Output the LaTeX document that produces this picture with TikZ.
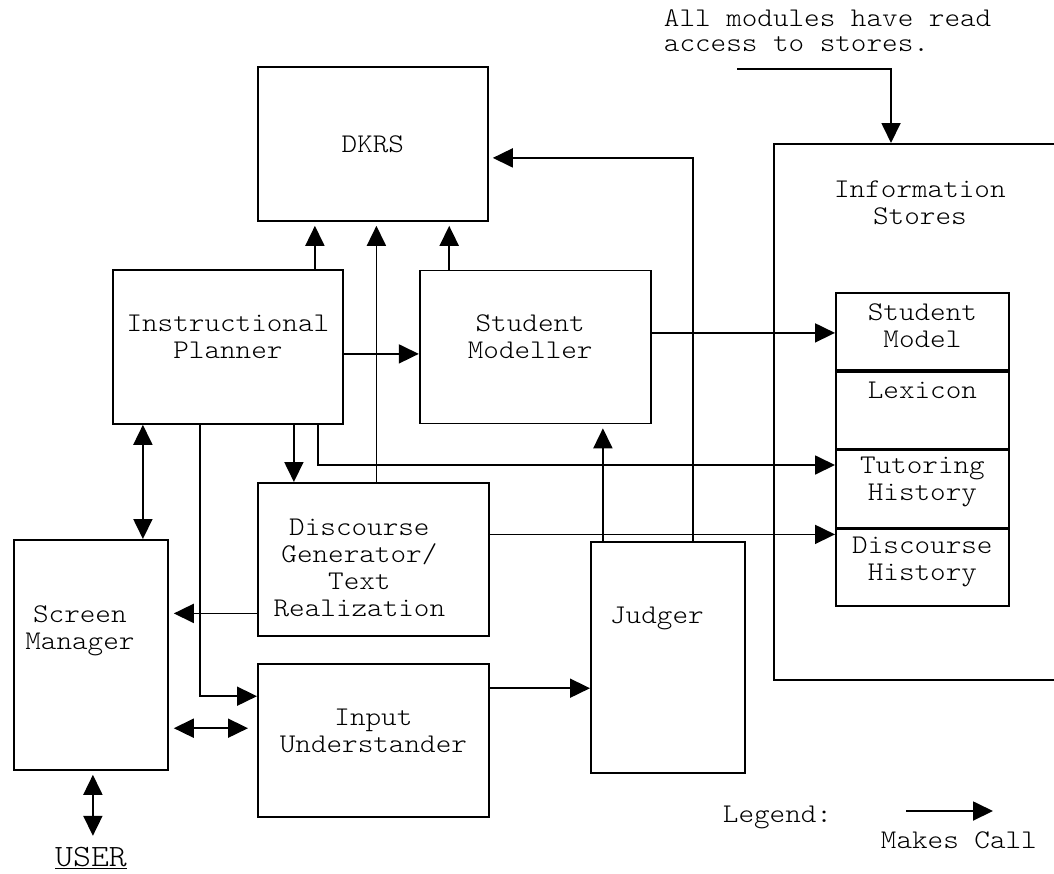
\documentclass[tikz,border=0pt]{standalone}
\usepackage{fontspec}
\setmainfont{Latin Modern Mono Light}[FakeStretch=1.1]
\usepackage{tikz}
\usetikzlibrary{positioning, arrows.meta, calc}

\begin{document}
\begin{tikzpicture}
    [
        x=1pt, y=-1pt,
        font=\fontsize{27}{27}\selectfont,
        line width=1.8pt,
        box/.style 2 args={draw, anchor=north west, minimum width=#1,
                           minimum height=#2},
        cell/.style={draw, minimum width=173pt, minimum height=77pt},
        every label/.style={align=center},
        call/.style={-{Triangle[length=20pt, width=19pt]}},
        both/.style={{Triangle[length=20pt, width=19pt]}-{Triangle[length=20pt, width=19pt]}}
    ]
    \useasboundingbox (0,0) rectangle (1054,873);
    % modules
    \node (dkrs) [box={230pt}{154pt}, label={center:DKRS}] at (257,66) {};
    \node (ip) [box={230pt}{154pt},
        label={[yshift=10pt]center:Instructional\\Planner}] at (112,269) {};
    \node (smod) [box={231pt}{153pt}, right=75pt of ip,
        label={[xshift=-5pt, yshift=10pt]center:Student\\Modeller}] {};
    \node (dg) [box={231pt}{153pt},
        label={[xshift=-14pt, yshift=-8pt]center:Discourse\\Generator/\\Text\\Realization}]
        at (257,482) {};
    \node (iu) [box={231pt}{153pt}, below=26pt of dg,
        label={[yshift=9pt]center:Input\\Understander}] {};
    \node (scr) [box={154pt}{230pt},
        label={[xshift=-11pt, yshift=24pt]center:Screen\\Manager}] at (13,539) {};
    \node (judger) [box={154pt}{231pt},
        label={[xshift=-11pt, yshift=39pt]center:Judger}] at (590,541) {};
    % stores
    \node (stores) [box={292pt}{536pt},
        label={[yshift=209pt]center:Information\\Stores}] at (773,143) {};
    \node (cstudent) [cell, anchor=north west,
        label={[yshift=6pt]center:Student\\Model}] at (835,292) {};
    \node (clexicon) [cell, below=0pt of cstudent,
        label={[yshift=20pt]center:Lexicon}] {};
    \node (ctutor) [cell, below=0pt of clexicon,
        label={[yshift=7pt]center:Tutoring\\History}] {};
    \node (cdisc) [cell, below=0pt of ctutor,
        label={[yshift=6pt]center:Discourse\\History}] {};
    % texts
    \node (note) [anchor=north west, inner sep=0pt, align=left,
        font=\fontsize{27}{25}\selectfont] at (663,9)
        {All modules have read\\access to stores.};
    \node (user) [anchor=base, inner sep=0pt, font=\fontsize{31}{31}\selectfont]
        at (91,866) {\underline{USER}};
    \node (legend) [anchor=base west, inner sep=0pt] at (722,822) {Legend:};
    \node (makescall) [anchor=base west, inner sep=0pt] at (880,848) {Makes Call};
    \coordinate (notetail) at (737,69);
    \coordinate (calltail) at (906,811);
    \coordinate (callhead) at (993,811);
    % calls
    \draw [call, shorten >=4pt] ([xshift=87pt]ip.north) -- ([xshift=87pt]ip.north |- dkrs.south);
    \draw [call, shorten >=4pt] ([xshift=3pt]dg.north) -- ([xshift=3pt]dg.north |- dkrs.south);
    \draw [call, shorten >=4pt] ([xshift=-86pt]smod.north) -- ([xshift=-86pt]smod.north |- dkrs.south);
    \draw [call, shorten >=4pt] ([xshift=25pt]judger.north) |- ([yshift=-14pt]dkrs.east);
    \draw [call] ([yshift=-7pt]ip.east) -- ([yshift=-7pt]ip.east -| smod.west);
    \draw [call] ([yshift=14pt]smod.east) -- ([yshift=14pt]smod.east -| cstudent.west);
    \draw [call] ([xshift=66pt]ip.south) -- ([xshift=66pt]ip.south |- dg.north);
    \draw [call] ([xshift=90pt]ip.south) |- ([yshift=24pt]ctutor.west);
    \draw [call] ([yshift=25pt]dg.east) -- ([yshift=25pt]dg.east -| cdisc.west);
    \draw [call, shorten >=4pt] ([xshift=-65pt]judger.north) -- ([xshift=-65pt]judger.north |- smod.south);
    \draw [both] ([xshift=-85pt]ip.south) -- ([xshift=-85pt]ip.south |- scr.north);
    \draw [call] ([xshift=-28pt]ip.south) |- ([yshift=44pt]iu.west);
    \draw [call, shorten >=5pt] ([yshift=-54pt]dg.west) -- ([yshift=-54pt]dg.west -| scr.east);
    \draw [both, shorten <=5pt, shorten >=9pt] ([yshift=12pt]iu.west -| scr.east) -- ([yshift=12pt]iu.west);
    \draw [call] ([yshift=52pt]iu.east) -- ([yshift=52pt]iu.east -| judger.west);
    \draw [both, shorten <=4pt, shorten >=10pt] ([xshift=2pt]scr.south) -- ([xshift=2pt]scr.south |- user.north);
    \draw [call] (notetail) -| ([xshift=118pt]stores.north west);
    \draw [call] (calltail) -- (callhead);
\end{tikzpicture}
\end{document}
